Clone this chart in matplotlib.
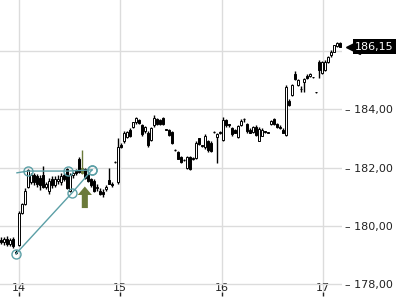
"""Intraday candlestick chart with a trend-line sketch and a right-hand price tag."""

import matplotlib

matplotlib.use("Agg")
import matplotlib.pyplot as plt
import matplotlib.transforms as mtransforms
from matplotlib.patches import FancyArrow

# candles, one row per bar: open, high, low, close
OPENS = [
    179.50, 179.45, 179.55, 179.38, 179.55, 179.10, 179.35, 180.45, 180.75, 181.35,
    181.50, 181.75, 181.70, 181.65, 181.75, 181.35, 181.20, 181.60, 181.40, 181.55,
    181.50, 181.75, 181.95, 181.20, 181.75, 181.90, 182.30, 181.80, 181.95, 181.75,
    181.60, 181.55, 181.30, 181.20, 181.15, 181.25, 181.58, 181.45, 182.20, 181.50,
    182.78, 182.90, 183.05, 183.30, 183.40, 183.55, 183.62, 183.45, 183.25, 183.20,
    182.95, 183.45, 183.65, 183.62, 183.70, 183.30, 183.30, 183.22, 182.60, 182.55,
    182.35, 182.26, 181.98, 182.35, 182.28, 182.33, 183.00, 182.75, 182.70, 182.90,
    182.85, 183.22, 183.05, 183.18, 182.95, 183.62, 183.48, 183.35, 183.30, 183.05,
    183.45, 183.65, 183.48, 183.30, 183.22, 183.40, 182.92, 183.10, 183.24, 183.20,
    183.48, 183.65, 183.50, 183.40, 183.30, 183.12, 184.30, 184.50, 185.20, 184.85,
    184.70, 184.95, 185.15, 185.15, 185.10, 184.58, 185.62, 185.25, 185.35, 185.62,
    185.85, 185.98, 186.18, 186.27,
]
HIGHS = [
    179.62, 179.60, 179.65, 179.58, 179.60, 179.18, 180.50, 180.80, 181.30, 181.95,
    181.80, 181.80, 181.78, 181.75, 182.05, 181.50, 181.65, 181.70, 181.70, 181.75,
    181.80, 181.80, 182.00, 181.80, 181.85, 181.95, 182.35, 182.60, 182.00, 181.80,
    181.65, 181.60, 181.45, 181.30, 181.25, 181.40, 181.98, 181.50, 182.22, 183.00,
    182.85, 183.25, 183.25, 183.35, 183.58, 183.72, 183.68, 183.50, 183.42, 183.25,
    183.40, 183.82, 183.70, 183.66, 183.74, 183.32, 183.33, 183.26, 182.62, 182.58,
    182.38, 182.28, 182.38, 182.38, 182.36, 182.90, 183.03, 182.78, 183.15, 182.95,
    182.90, 183.25, 183.20, 183.25, 183.72, 183.68, 183.50, 183.38, 183.32, 183.45,
    183.68, 183.70, 183.52, 183.35, 183.42, 183.45, 183.38, 183.35, 183.26, 183.23,
    183.63, 183.70, 183.52, 183.45, 183.35, 184.85, 184.35, 184.88, 185.30, 185.05,
    184.80, 185.08, 185.20, 185.25, 185.12, 184.60, 185.68, 185.65, 185.68, 185.82,
    186.03, 186.22, 186.30, 186.30,
]
LOWS = [
    179.38, 179.35, 179.30, 179.32, 179.25, 179.02, 179.30, 180.40, 180.70, 181.30,
    181.45, 181.40, 181.35, 181.23, 181.30, 181.25, 181.10, 181.30, 181.35, 181.45,
    181.40, 181.55, 181.25, 181.15, 181.65, 181.75, 181.80, 181.78, 181.60, 181.50,
    181.35, 181.15, 181.20, 181.05, 181.00, 181.20, 181.42, 181.35, 182.17, 181.45,
    182.68, 182.85, 183.00, 183.05, 183.35, 183.50, 183.48, 183.10, 183.20, 182.70,
    182.90, 183.40, 183.45, 183.46, 183.45, 183.28, 183.08, 182.80, 182.57, 182.28,
    182.15, 182.22, 181.95, 181.90, 182.25, 182.30, 182.78, 182.72, 182.65, 182.55,
    182.55, 183.20, 182.15, 183.15, 182.90, 183.40, 183.40, 183.10, 183.18, 183.00,
    183.42, 183.55, 183.20, 183.18, 183.18, 183.10, 182.90, 183.08, 183.20, 183.17,
    183.45, 183.45, 183.35, 183.32, 183.18, 183.08, 184.12, 184.45, 185.00, 184.80,
    184.60, 184.60, 185.05, 185.10, 185.07, 184.56, 185.07, 185.20, 185.30, 185.58,
    185.80, 185.95, 186.15, 186.12,
]
CLOSES = [
    179.45, 179.55, 179.38, 179.52, 179.30, 179.08, 180.45, 180.75, 181.20, 181.90,
    181.75, 181.50, 181.45, 181.40, 181.35, 181.45, 181.55, 181.40, 181.60, 181.62,
    181.70, 181.60, 181.30, 181.75, 181.80, 181.80, 181.85, 182.00, 181.65, 181.55,
    181.40, 181.20, 181.35, 181.10, 181.10, 181.35, 181.45, 181.40, 182.19, 182.70,
    182.72, 183.20, 183.22, 183.10, 183.55, 183.70, 183.52, 183.15, 183.38, 182.78,
    183.35, 183.70, 183.48, 183.48, 183.48, 183.30, 183.12, 182.85, 182.60, 182.30,
    182.18, 182.25, 182.35, 181.95, 182.33, 182.85, 182.80, 182.75, 183.10, 182.60,
    182.58, 183.22, 183.15, 183.22, 183.62, 183.45, 183.45, 183.15, 183.20, 183.42,
    183.60, 183.65, 183.25, 183.20, 183.38, 183.12, 183.32, 183.30, 183.23, 183.20,
    183.60, 183.48, 183.38, 183.35, 183.20, 184.77, 184.15, 184.83, 185.05, 185.00,
    184.68, 185.05, 185.08, 185.20, 185.10, 184.58, 185.35, 185.62, 185.62, 185.80,
    185.98, 186.20, 186.27, 186.15,
]
SIGNAL_BAR = 27  # the highlighted (olive) candle

FIRST_DAY = 13.822
BAR_DAYS = 0.0296

DAY_TICKS = [14, 15, 16, 17]
PRICE_TICKS = [178, 180, 182, 184, 186]
PRICE_LABELS = ["178,00", "180,00", "182,00", "184,00", ""]
LAST_PRICE = 186.15
LAST_LABEL = "186,15"

# hand-drawn trend lines (day, price)
TREND_DAYS = [13.970, 14.523, 14.721]
TREND_PRICES = [179.04, 181.13, 181.92]
LEVEL_DAYS = [13.980, 14.089, 14.484, 14.721]
LEVEL_PRICES = [181.82, 181.88, 181.88, 181.92]
ARROW_DAY = 14.650
ARROW_BASE = 180.61
ARROW_TOP = 181.35

TEAL = "#5b9fa6"
OLIVE = "#6b7a3a"
GRID = "#dcdcdc"
TEXT = "#222222"


def draw_candles(ax):
    times = [FIRST_DAY + i * BAR_DAYS for i in range(len(CLOSES))]
    for i, t in enumerate(times):
        o, h, l, c = OPENS[i], HIGHS[i], LOWS[i], CLOSES[i]
        ink = OLIVE if i == SIGNAL_BAR else "black"
        ax.vlines(t, l, h, color=ink, linewidth=1.0, zorder=3)
        if i == SIGNAL_BAR:
            face = OLIVE
        else:
            face = "white" if c >= o else "black"
        bottom = min(o, c)
        height = max(abs(c - o), 0.01)
        ax.bar(t, height, bottom=bottom, width=0.016, color=face,
               edgecolor=ink, linewidth=0.7, zorder=4)


def main():
    fig = plt.figure(figsize=(4, 3), dpi=100)
    ax = fig.add_axes([0.0, 0.0267, 0.855, 0.9733])

    draw_candles(ax)

    ax.plot(TREND_DAYS, TREND_PRICES, color=TEAL, linewidth=1.0, zorder=5,
            marker="o", markersize=6.5, markerfacecolor="none",
            markeredgecolor=TEAL, markeredgewidth=1.0)
    ax.plot(LEVEL_DAYS, LEVEL_PRICES, color=TEAL, linewidth=1.0, zorder=5)
    ax.plot(LEVEL_DAYS[1:], LEVEL_PRICES[1:], linestyle="none", marker="o",
            markersize=6.5, markerfacecolor="none", markeredgecolor=TEAL,
            markeredgewidth=1.0, zorder=5)

    ax.add_patch(FancyArrow(ARROW_DAY, ARROW_BASE, 0, ARROW_TOP - ARROW_BASE,
                            width=0.06, head_width=0.14, head_length=0.29,
                            length_includes_head=True, color=OLIVE,
                            linewidth=0, zorder=6))

    ax.set_xlim(13.8125, 17.189)
    ax.set_ylim(177.73, 187.75)

    ax.set_xticks(DAY_TICKS)
    ax.set_xticklabels([str(d) for d in DAY_TICKS])
    ax.set_yticks(PRICE_TICKS)
    ax.set_yticklabels(["– " + s if s else "" for s in PRICE_LABELS])
    ax.grid(True, color=GRID, linewidth=1.0, zorder=0)
    ax.set_axisbelow(True)

    for spine in ax.spines.values():
        spine.set_visible(False)
    ax.yaxis.tick_right()
    ax.tick_params(axis="x", direction="out", length=3, width=1, colors=TEXT,
                   labelsize=8, pad=-9.4)
    ax.tick_params(axis="y", length=0, labelsize=8, colors=TEXT, pad=2)

    # last-price tag on the right edge
    tag = mtransforms.blended_transform_factory(ax.transAxes, ax.transData)
    ax.plot([1.032], [LAST_PRICE], marker="<", markersize=10, color="black",
            transform=tag, clip_on=False, zorder=7)
    ax.text(1.095, LAST_PRICE, LAST_LABEL, transform=tag, ha="center",
            va="center", color="white", fontsize=8, zorder=8,
            bbox=dict(boxstyle="square,pad=0.22", fc="black", ec="none"))

    fig.savefig("out.png", dpi=100)
    plt.close(fig)


if __name__ == "__main__":
    main()
